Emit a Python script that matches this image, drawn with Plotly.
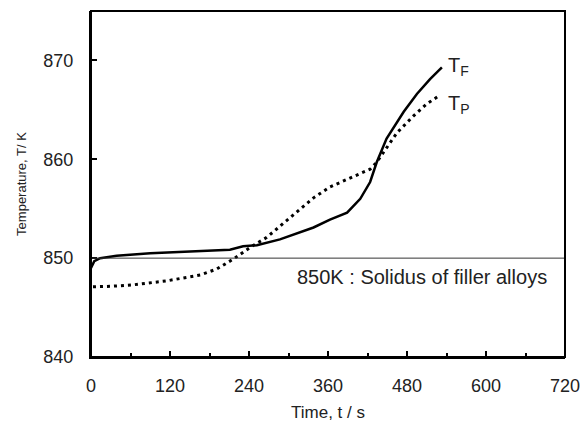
import plotly.graph_objects as go

# T_F (solid) readings
time_f = [0, 5, 14, 39, 90, 166, 211, 231, 252, 287, 318, 338, 363, 389, 409,
          424, 434, 449, 475, 495, 515, 533]
temp_f = [849.0, 849.7, 850.0, 850.25, 850.5, 850.7, 850.85, 851.2, 851.3, 851.9,
          852.6, 853.1, 853.9, 854.6, 856.0, 857.7, 859.7, 862.1, 864.8, 866.6,
          868.1, 869.3]

# T_P (dotted) readings
time_p = [3, 30, 64, 115, 166, 191, 216, 242, 267, 302, 338, 363, 389, 424, 434,
          465, 490, 510, 528]
temp_p = [847.1, 847.15, 847.3, 847.7, 848.3, 848.9, 849.9, 851.1, 852.1, 854.1,
          856.1, 857.2, 858.0, 859.0, 859.7, 862.7, 864.4, 865.6, 866.4]

solidus = 850
x_ticks = [0, 120, 240, 360, 480, 600, 720]
y_ticks = [840, 850, 860, 870]

font = "Liberation Sans, Arial, sans-serif"

fig = go.Figure()
fig.add_trace(go.Scatter(x=time_f, y=temp_f, mode="lines",
                         line=dict(color="black", width=2.5), showlegend=False))
fig.add_trace(go.Scatter(x=time_p, y=temp_p, mode="lines",
                         line=dict(color="black", width=3, dash="3px,4px"),
                         showlegend=False))

# solidus line
fig.add_shape(type="line", xref="paper", x0=0, x1=1, y0=solidus, y1=solidus,
              line=dict(color="#333", width=1))
# frame
fig.add_shape(type="rect", xref="paper", yref="paper", x0=0, x1=1, y0=0, y1=1,
              line=dict(color="black", width=2), layer="above")

fig.add_annotation(x=310, y=848.1, text="850K : Solidus of filler alloys",
                   showarrow=False, xanchor="left", yanchor="middle",
                   font=dict(size=20, color="#222"))
fig.add_annotation(x=539, y=869.4, text="T<sub>F</sub>", showarrow=False,
                   xanchor="left", yanchor="middle", font=dict(size=20, color="#222"))
fig.add_annotation(x=539, y=865.5, text="T<sub>P</sub>", showarrow=False,
                   xanchor="left", yanchor="middle", font=dict(size=20, color="#222"))

fig.update_layout(
    width=582, height=423,
    margin=dict(l=91, r=17, t=11, b=66, autoexpand=False),
    paper_bgcolor="white", plot_bgcolor="white",
    font=dict(family=font, color="#222"),
)
fig.update_xaxes(
    range=[0, 720], tickvals=x_ticks, ticks="inside", ticklen=6, tickwidth=2,
    tickcolor="black", showline=True, linecolor="black", linewidth=2,
    showgrid=False, zeroline=False, tickfont=dict(size=18),
    ticklabelstandoff=11, automargin=False,
    minor=dict(ticks="inside", ticklen=4, tickwidth=1.5, tickcolor="black",
               dtick=60, showgrid=False),
    title=dict(text="Time, t / s", font=dict(size=17), standoff=12),
)
fig.update_yaxes(
    range=[840, 875], tickvals=y_ticks, ticks="inside", ticklen=6, tickwidth=2,
    tickcolor="black", showline=True, linecolor="black", linewidth=2,
    showgrid=False, zeroline=False, tickfont=dict(size=18),
    ticklabelstandoff=12, automargin=False,
    title=dict(text="Temperature, T/ K", font=dict(size=13), standoff=14),
)

# drop the default 8px page margin so the figure fills the window
fig.write_html("out.html", config={"displayModeBar": False},
               post_script="document.body.style.margin = '0';")
